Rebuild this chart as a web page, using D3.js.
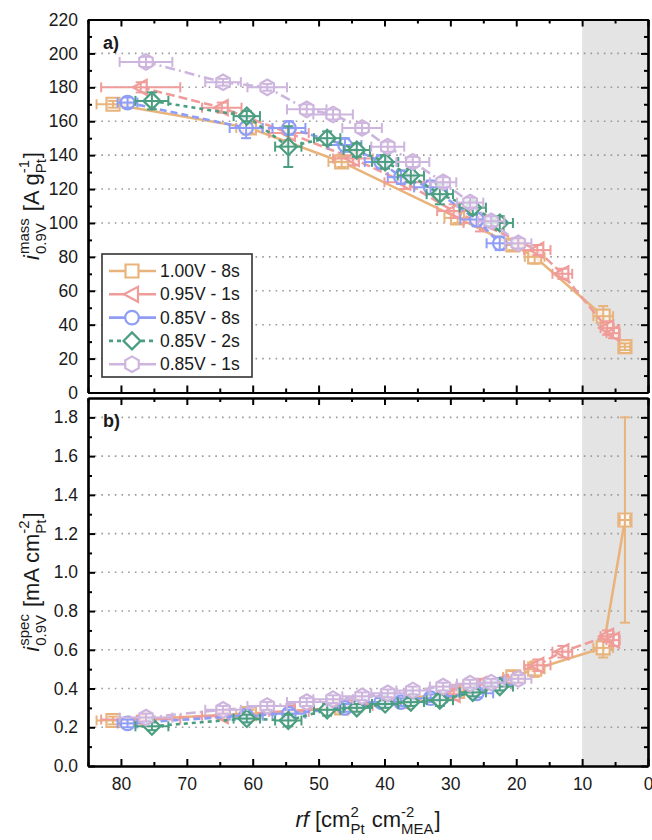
<!DOCTYPE html>
<html>
<head>
<meta charset="utf-8">
<script src="https://cdn.jsdelivr.net/npm/d3@7"></script>
<style>
  html, body { margin: 0; padding: 0; background: #fff; }
  svg text { font-family: "Liberation Sans", Arial, Helvetica, sans-serif; fill: #1a1a1a; }
</style>
</head>
<body>
<svg id="chart" width="652" height="840"></svg>
<script>
// ---------------- DATA ----------------
const seriesNames = ["1.00V - 8s", "0.95V - 1s", "0.85V - 8s", "0.85V - 2s", "0.85V - 1s"];

// 1.00V - 8s
const rf_a     = [81.2, 60.5, 46.5, 28.9, 20.5, 17.2, 6.8, 3.5];
const rfErr_a  = [2.5, 2.0, 2.0, 2.0, 1.5, 1.5, 1.5, 0.8];
const mass_a   = [170, 156, 136, 103, 87, 80, 45, 27];
const massErr_a= [2, 3, 3, 3, 3, 4, 6, 2];
const spec_a   = [0.235, 0.27, 0.30, 0.385, 0.46, 0.50, 0.61, 1.27];
const specErr_a= [0.02, 0.02, 0.02, 0.02, 0.03, 0.04, 0.05, 0.53];

// 0.95V - 1s
const rf_b     = [77.0, 64.7, 54.5, 44.8, 37.0, 29.5, 25.5, 16.8, 13.0, 6.2, 5.3];
const rfErr_b  = [6.0, 3.0, 3.0, 3.0, 3.0, 2.5, 2.5, 2.0, 1.5, 1.0, 1.0];
const mass_b   = [180, 168, 153, 138, 124, 107, 100, 84, 70, 38, 35];
const massErr_b= [3, 3, 4, 4, 4, 4, 5, 3, 3, 4, 3];
const spec_b   = [0.24, 0.26, 0.28, 0.31, 0.33, 0.37, 0.42, 0.52, 0.59, 0.67, 0.65];
const specErr_b= [0.02, 0.02, 0.03, 0.03, 0.03, 0.03, 0.03, 0.03, 0.03, 0.03, 0.03];

// 0.85V - 8s
const rf_c     = [79.0, 61.0, 54.5, 46.0, 40.5, 37.5, 33.0, 26.0, 22.5];
const rfErr_c  = [1.5, 2.5, 2.5, 2.5, 2.5, 2.0, 2.5, 2.5, 2.0];
const mass_c   = [171, 156, 156, 146, 136, 127, 121, 102, 88];
const massErr_c= [3, 6, 4, 4, 4, 4, 4, 4, 4];
const spec_c   = [0.22, 0.26, 0.27, 0.30, 0.33, 0.33, 0.35, 0.375, 0.42];
const specErr_c= [0.02, 0.02, 0.02, 0.02, 0.02, 0.02, 0.02, 0.02, 0.03];

// 0.85V - 2s
const rf_d     = [75.3, 60.9, 54.6, 48.7, 44.2, 39.9, 36.0, 31.6, 26.6, 22.5];
const rfErr_d  = [2.5, 2.0, 2.0, 2.0, 2.0, 2.0, 2.0, 2.0, 2.0, 2.0];
const mass_d   = [172, 163, 145, 150, 143, 136, 128, 117, 109, 100];
const massErr_d= [5, 3, 12, 4, 4, 4, 4, 6, 4, 4];
const spec_d   = [0.205, 0.245, 0.235, 0.29, 0.30, 0.32, 0.33, 0.34, 0.38, 0.41];
const specErr_d= [0.02, 0.02, 0.03, 0.03, 0.02, 0.02, 0.02, 0.03, 0.02, 0.02];

// 0.85V - 1s
const rf_e     = [76.2, 64.5, 57.8, 51.8, 47.8, 43.4, 39.5, 35.7, 31.1, 27.0, 23.8, 19.7];
const rfErr_e  = [4.0, 2.7, 3.0, 3.0, 3.0, 3.0, 2.5, 2.5, 2.0, 2.0, 2.0, 2.0];
const mass_e   = [195, 183, 180, 167, 164, 156, 145, 136, 124, 112, 101, 88];
const massErr_e= [3, 2, 2, 3, 3, 3, 3, 3, 3, 3, 3, 3];
const spec_e   = [0.25, 0.29, 0.31, 0.33, 0.345, 0.36, 0.375, 0.39, 0.41, 0.425, 0.43, 0.45];
const specErr_e= [0.02, 0.02, 0.02, 0.02, 0.02, 0.02, 0.02, 0.02, 0.02, 0.02, 0.02, 0.02];

const massTicks = [0, 20, 40, 60, 80, 100, 120, 140, 160, 180, 200, 220];
const specTicks = [0.0, 0.2, 0.4, 0.6, 0.8, 1.0, 1.2, 1.4, 1.6, 1.8];
const rfTicks   = [80, 70, 60, 50, 40, 30, 20, 10, 0];
const shadedRf  = [10, 0];

// ---------------- STYLES ----------------
const colors  = ["#E8B47C", "#EF9C9A", "#8E9DF5", "#4C9E80", "#CDB5DE"];
const dashes  = [null, "9,4", "7,4", "4,4", "10,4,2,4"];
const markers = ["square", "triLeft", "circle", "diamond", "hexagon"];

const series = [
  {rf: rf_a, rfErr: rfErr_a, mass: mass_a, massErr: massErr_a, spec: spec_a, specErr: specErr_a},
  {rf: rf_b, rfErr: rfErr_b, mass: mass_b, massErr: massErr_b, spec: spec_b, specErr: specErr_b},
  {rf: rf_c, rfErr: rfErr_c, mass: mass_c, massErr: massErr_c, spec: spec_c, specErr: specErr_c},
  {rf: rf_d, rfErr: rfErr_d, mass: mass_d, massErr: massErr_d, spec: spec_d, specErr: specErr_d},
  {rf: rf_e, rfErr: rfErr_e, mass: mass_e, massErr: massErr_e, spec: spec_e, specErr: specErr_e}
].map((s, i) => ({...s, name: seriesNames[i], color: colors[i], dash: dashes[i], marker: markers[i]}));

// ---------------- LAYOUT ----------------
const svg = d3.select("#chart");
const L = 88, R = 648;
const panelA = {top: 19.5, bottom: 392.5};
const panelB = {top: 398, bottom: 766};

const x = d3.scaleLinear().domain([85, 0]).range([L, R]);
const yA = d3.scaleLinear().domain([0, 220]).range([panelA.bottom, panelA.top]);
const yB = d3.scaleLinear().domain([0, 1.9]).range([panelB.bottom, panelB.top]);

function markerPath(type) {
  switch (type) {
    case "square": return "M-6.5,-6.5H6.5V6.5H-6.5Z";
    case "triLeft": return "M-8,0L6,-7.5L6,7.5Z";
    case "circle": return d3.symbol(d3.symbolCircle, Math.PI * 6.8 * 6.8)();
    case "diamond": return "M0,-8.5L8.5,0L0,8.5L-8.5,0Z";
    case "hexagon": {
      const r = 7.8, pts = [];
      for (let k = 0; k < 6; k++) { const a = (-90 + 60 * k) * Math.PI / 180; pts.push([r * Math.cos(a), r * Math.sin(a)]); }
      return "M" + pts.map(p => p.map(v => v.toFixed(2)).join(",")).join("L") + "Z";
    }
  }
}

function drawPanel(panel, y, key, errKey, gridVals, labelText) {
  const g = svg.append("g");
  g.append("rect")
    .attr("x", x(shadedRf[0])).attr("y", panel.top)
    .attr("width", x(shadedRf[1]) - x(shadedRf[0])).attr("height", panel.bottom - panel.top)
    .attr("fill", "#e4e4e4");
  g.selectAll(".grid").data(gridVals).enter().append("line")
    .attr("x1", L).attr("x2", R)
    .attr("y1", d => y(d)).attr("y2", d => y(d))
    .attr("stroke", "#9a9a9a").attr("stroke-width", 1.6)
    .attr("stroke-dasharray", "1.6,5.1");

  series.forEach(s => {
    const pts = s.rf.map((r, i) => ({x: r, xe: s.rfErr[i], y: s[key][i], ye: s[errKey][i]}));
    const sg = g.append("g");
    sg.append("path").datum(pts)
      .attr("d", d3.line().x(d => x(d.x)).y(d => y(d.y)))
      .attr("fill", "none").attr("stroke", s.color).attr("stroke-width", 2.6)
      .attr("stroke-dasharray", s.dash);
    sg.selectAll(".m").data(pts).enter().append("path")
      .attr("d", markerPath(s.marker))
      .attr("transform", d => `translate(${x(d.x)},${y(d.y)})`)
      .attr("fill", "#fff").attr("fill-opacity", 0.75)
      .attr("stroke", s.color).attr("stroke-width", 2.2);
    const eb = sg.selectAll(".e").data(pts).enter().append("g").attr("stroke", s.color).attr("stroke-width", 2);
    const cap = 5;
    eb.append("line").attr("x1", d => x(d.x - d.xe)).attr("x2", d => x(d.x + d.xe)).attr("y1", d => y(d.y)).attr("y2", d => y(d.y));
    eb.append("line").attr("x1", d => x(d.x - d.xe)).attr("x2", d => x(d.x - d.xe)).attr("y1", d => y(d.y) - cap).attr("y2", d => y(d.y) + cap);
    eb.append("line").attr("x1", d => x(d.x + d.xe)).attr("x2", d => x(d.x + d.xe)).attr("y1", d => y(d.y) - cap).attr("y2", d => y(d.y) + cap);
    eb.append("line").attr("x1", d => x(d.x)).attr("x2", d => x(d.x)).attr("y1", d => y(d.y - d.ye)).attr("y2", d => y(d.y + d.ye));
    eb.append("line").attr("x1", d => x(d.x) - cap).attr("x2", d => x(d.x) + cap).attr("y1", d => y(d.y - d.ye)).attr("y2", d => y(d.y - d.ye));
    eb.append("line").attr("x1", d => x(d.x) - cap).attr("x2", d => x(d.x) + cap).attr("y1", d => y(d.y + d.ye)).attr("y2", d => y(d.y + d.ye));
  });

  g.append("text").attr("x", 103).attr("y", panel.top + 29)
    .style("font-size", "18px").style("font-weight", "bold").text(labelText);
  return g;
}

function drawAxes(panel, y, yMajor, yMinor, fmt, showX) {
  const g = svg.append("g");
  const style = sel => {
    sel.selectAll("path.domain").attr("stroke", "#000").attr("stroke-width", 2.2);
    sel.selectAll(".tick line").attr("stroke", "#000").attr("stroke-width", 2);
    sel.selectAll(".tick text").style("font-size", "17.5px").attr("fill", "#1a1a1a");
  };
  const xMinor = d3.range(0, 86, 5).filter(v => v % 10 !== 0);
  g.append("g").attr("transform", `translate(${L},0)`)
    .call(d3.axisLeft(y).tickValues(yMinor).tickSize(-4).tickSizeOuter(0).tickFormat("")).call(style);
  g.append("g").attr("transform", `translate(${L},0)`)
    .call(d3.axisLeft(y).tickValues(yMajor).tickSize(-7).tickSizeOuter(0).tickPadding(10).tickFormat(fmt)).call(style);
  g.append("g").attr("transform", `translate(${R},0)`)
    .call(d3.axisRight(y).tickValues(yMinor).tickSize(-4).tickSizeOuter(0).tickFormat("")).call(style);
  g.append("g").attr("transform", `translate(${R},0)`)
    .call(d3.axisRight(y).tickValues(yMajor).tickSize(-7).tickSizeOuter(0).tickFormat("")).call(style);
  g.append("g").attr("transform", `translate(0,${panel.top})`)
    .call(d3.axisTop(x).tickValues(xMinor).tickSize(-4).tickSizeOuter(0).tickFormat("")).call(style);
  g.append("g").attr("transform", `translate(0,${panel.top})`)
    .call(d3.axisTop(x).tickValues(rfTicks).tickSize(-7).tickSizeOuter(0).tickFormat("")).call(style);
  g.append("g").attr("transform", `translate(0,${panel.bottom})`)
    .call(d3.axisBottom(x).tickValues(xMinor).tickSize(-4).tickSizeOuter(0).tickFormat("")).call(style);
  g.append("g").attr("transform", `translate(0,${panel.bottom})`)
    .call(d3.axisBottom(x).tickValues(rfTicks).tickSize(-7).tickSizeOuter(0).tickPadding(12)
      .tickFormat(showX ? d3.format("d") : "")).call(style);
}

function richText(parent, parts, fs) {
  const g = parent.append("g");
  let cx = 0;
  parts.forEach(p => {
    if (p.t !== undefined) {
      const t = g.append("text").attr("x", cx).attr("y", 0)
        .style("font-size", fs + "px").style("white-space", "pre")
        .style("font-style", p.italic ? "italic" : "normal").text(p.t);
      cx += t.node().getComputedTextLength();
    } else {
      const s = fs * 0.68;
      let w = 0;
      if (p.sup) {
        const t = g.append("text").attr("x", cx + (p.dx || 0)).attr("y", -fs * 0.45).style("font-size", s + "px").text(p.sup);
        w = Math.max(w, t.node().getComputedTextLength());
      }
      if (p.sub) {
        const t = g.append("text").attr("x", cx + (p.dx || 0)).attr("y", fs * 0.32).style("font-size", s + "px").text(p.sub);
        w = Math.max(w, t.node().getComputedTextLength());
      }
      cx += w + (p.dx || 0) + 1;
    }
  });
  const total = cx;
  g.selectAll("text").attr("x", function() { return +this.getAttribute("x") - total / 2; });
  return g;
}

drawPanel(panelA, yA, "mass", "massErr", massTicks.filter(v => v > 0 && v < 220), "a)");
drawPanel(panelB, yB, "spec", "specErr", specTicks.filter(v => v > 0), "b)");

// legend
const lg = svg.append("g");
lg.append("rect").attr("x", 102).attr("y", 254).attr("width", 150).attr("height", 123)
  .attr("fill", "#fff").attr("stroke", "#333").attr("stroke-width", 1.6);
series.forEach((s, i) => {
  const cy = 271 + i * 23.3;
  lg.append("line").attr("x1", 109).attr("x2", 156).attr("y1", cy).attr("y2", cy)
    .attr("stroke", s.color).attr("stroke-width", 2.6).attr("stroke-dasharray", i === 3 ? "4,4" : null);
  lg.append("path").attr("d", markerPath(s.marker)).attr("transform", `translate(132,${cy})`)
    .attr("fill", "#fff").attr("stroke", s.color).attr("stroke-width", 2.2);
  lg.append("text").attr("x", 160).attr("y", cy + 6).style("font-size", "17.5px").text(s.name);
});

drawAxes(panelA, yA, massTicks, d3.range(10, 220, 20), d3.format("d"), false);
drawAxes(panelB, yB, specTicks, d3.range(0.1, 1.9, 0.2), d3.format(".1f"), true);

// axis titles
const fsT = 22;
const tA = richText(svg, [
  {t: "i", italic: true}, {sup: "mass", sub: "0.9V", dx: 1},
  {t: " [A g"}, {sup: "-1", sub: "Pt"}, {t: "]"}
], fsT);
tA.attr("transform", `translate(39,${(panelA.top + panelA.bottom) / 2}) rotate(-90)`);

const tB = richText(svg, [
  {t: "i", italic: true}, {sup: "spec", sub: "0.9V", dx: 1},
  {t: " [mA cm"}, {sup: "-2", sub: "Pt"}, {t: "]"}
], fsT);
tB.attr("transform", `translate(39,${(panelB.top + panelB.bottom) / 2}) rotate(-90)`);

const tX = richText(svg, [
  {t: "rf", italic: true}, {t: " [cm"}, {sup: "2", sub: "Pt"},
  {t: " cm"}, {sup: "-2", sub: "MEA"}, {t: "]"}
], fsT);
tX.attr("transform", `translate(${(L + R) / 2},827)`);
</script>
</body>
</html>
